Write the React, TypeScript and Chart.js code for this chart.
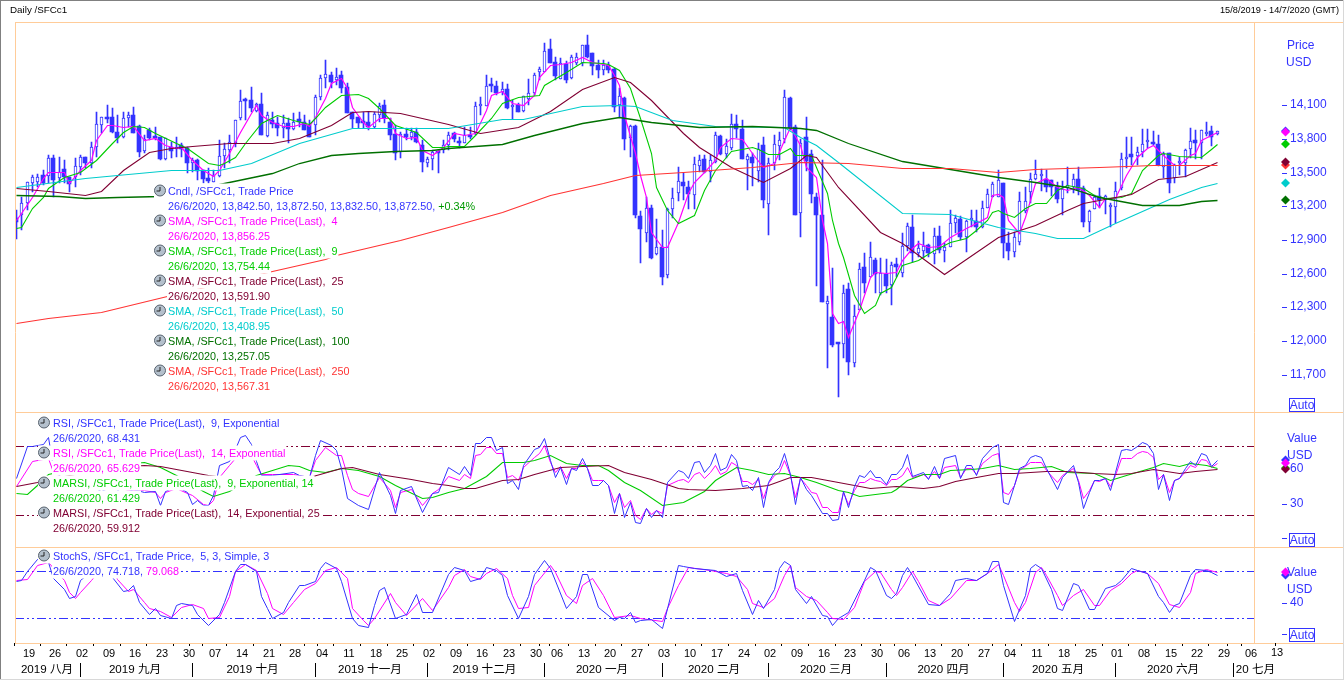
import React, { useEffect, useRef } from "react";
import { Chart, registerables } from "chart.js";

Chart.register(...registerables);

const BLUE = "#3333FF";
const MAGENTA = "#FF00FF";
const GREEN = "#00CC00";
const MAROON = "#800033";
const CYAN = "#00CCCC";
const DKGREEN = "#007000";
const RED = "#FF3333";
const FRAME = "#FFCC99";

const SLOTS = 232;
const HOLIDAYS = ["2020-01-01"];

const opens = [
  13100,13122,13226,13409,13418,13477,13471,13626,13448,13528,
  13463,13463,13551,13634,13581,13724,13922,13990,13990,13857,
  13812,13981,14011,13913,13694,13880,13812,13812,13617,13729,
  13705,13744,13714,13587,13611,13522,13448,13418,13470,13648,
  13700,13765,13984,14144,14144,14049,14108,13824,13966,13937,
  13892,13937,13883,13975,13951,13922,13922,14174,14337,14366,
  14322,14366,14257,14040,13990,13960,13952,13907,14011,14100,
  13951,13842,13685,13839,13818,13863,13744,13587,13617,13685,
  13700,13744,13848,13780,13766,13834,13850,14095,14092,14270,
  14269,14219,14240,14080,14100,14050,14151,14204,14397,14397,
  14595,14485,14329,14465,14337,14471,14471,14634,14560,14456,
  14412,14456,14417,14100,14160,13805,13914,13113,12965,13181,
  12773,12835,12586,13173,13321,13419,13374,13300,13561,13617,
  13507,13596,13824,13664,13715,13928,13886,13611,13635,13516,
  13744,13220,13581,13735,13795,14159,13907,13143,13812,13664,
  13285,13122,12331,12212,11983,11975,12461,11803,12278,12657,
  12568,12722,12432,12598,12500,12686,12609,12846,13012,12787,
  12805,12855,12775,12935,12805,12840,13048,13086,12929,13078,
  13072,13018,13181,13279,13285,13409,12876,12796,12885,13160,
  13329,13442,13468,13439,13433,13368,13261,13359,13368,13439,
  13359,13062,13172,13291,13255,13196,13190,13359,13620,13664,
  13646,13685,13774,13774,13753,13552,13670,13448,13587,13581,
  13705,13788,13765,13839,13865,13842.5,
];
const closes = [
  13060,13226,13412,13463,13463,13409,13626,13433,13507,13463,
  13398,13557,13640,13587,13729,13931,13990,13975,13857,13803,
  13981,14011,13848,13685,13794,13803,13803,13617,13803,13694,
  13729,13705,13587,13611,13516,13442,13427,13477,13648,13709,
  13768,13966,14135,14135,14070,14108,13833,14011,13930,13892,
  13937,13883,13951,13951,13877,13818,14174,14337,14375,14307,
  14352,14248,14026,13972,13943,13937,13901,14020,14091,13981,
  13833,13676,13842,13812,13863,13774,13596,13617,13685,13676,
  13744,13833,13795,13760,13834,13813,14092,14095,14269,14265,
  14210,14240,14071,14100,14041,14180,14210,14367,14417,14584,
  14477,14358,14471,14323,14524,14524,14634,14530,14447,14412,
  14456,14412,14080,14180,13795,13914,13122,12998,13181,12743,
  12835,12574,13173,13270,13427,13383,13306,13573,13611,13507,
  13611,13833,13664,13735,13928,13886,13620,13645,13587,13706,
  13255,13587,13753,13789,14168,13892,13122,13759,13605,13309,
  13122,12352,12358,11966,11974,12426,11818,12224,12639,12520,
  12746,12598,12604,12491,12678,12657,12846,13024,12781,12826,
  12849,12781,12935,12811,12840,13048,13092,12929,13072,13078,
  13012,13181,13306,13397,13433,12876,12805,12923,13246,13249,
  13439,13486,13468,13368,13368,13261,13350,13388,13439,13344,
  13062,13160,13285,13255,13291,13196,13338,13616,13640,13640,
  13685,13753,13774,13753,13566,13664,13409,13566,13587,13700,
  13777,13759,13877,13839,13818,13872.5,
];
const highs = [
  13166,13279,13418,13477,13483,13522,13655,13655,13640,13611,
  13463,13626,13655,13640,13774,14040,13996,14100,14070,14011,
  14040,14040,14079,13922,13833,13892,13907,13818,13803,13774,
  13818,13759,13729,13625,13617,13522,13537,13522,13788,13759,
  13833,13966,14233,14159,14257,14114,14203,14040,14040,13996,
  14011,13981,14026,14040,14011,13966,14188,14366,14500,14396,
  14426,14405,14292,14040,13990,14040,14040,14040,14114,14144,
  13981,13922,13863,13892,13892,13892,13788,13640,13700,13694,
  13788,13863,13863,13819,13908,13908,14130,14175,14367,14337,
  14314,14308,14284,14145,14115,14180,14329,14388,14441,14649,
  14684,14524,14515,14495,14545,14560,14634,14723,14560,14500,
  14500,14486,14426,14249,14175,13923,13923,13158,13285,13211,
  13084,12989,13181,13365,13546,13500,13427,13640,13655,13655,
  13655,13857,13833,13795,14020,14011,13966,13664,13670,13759,
  13818,13626,13833,13863,14233,14174,13922,13795,13990,13700,
  13315,13611,12400,12648,11983,12500,12520,12322,12692,12781,
  12885,12737,12737,12728,12707,12737,12965,13048,13122,12894,
  12974,12864,13004,13024,12870,13166,13122,13113,13078,13166,
  13166,13249,13350,13418,13522,13409,12974,12974,13329,13368,
  13492,13611,13528,13522,13433,13418,13427,13545,13486,13545,
  13380,13166,13300,13359,13300,13225,13418,13676,13812,13812,
  13729,13883,13883,13871,13833,13685,13676,13575,13640,13705,
  13900,13877,13877,13945,13913,13872.5,
];
const lows = [
  12909,12990,13166,13330,13374,13388,13403,13285,13403,13403,
  13329,13374,13477,13537,13537,13640,13848,13937,13848,13759,
  13803,13907,13848,13640,13670,13788,13788,13611,13611,13625,
  13640,13640,13492,13507,13433,13403,13403,13418,13463,13537,
  13581,13729,13966,13966,14040,14040,13833,13812,13892,13824,
  13803,13765,13877,13907,13877,13812,13833,14144,14248,14248,
  14277,14203,14026,13892,13892,13892,13877,13892,13951,13937,
  13789,13611,13625,13788,13788,13759,13507,13551,13522,13498,
  13670,13700,13775,13715,13760,13795,13834,14012,14092,14219,
  14190,14190,14062,13973,14041,14041,14100,14190,14323,14411,
  14471,14323,14329,14293,14329,14456,14447,14515,14367,14343,
  14367,14382,14041,13997,13700,13635,13093,12698,12879,12728,
  12767,12500,12559,13093,13250,13256,13173,13173,13507,13492,
  13418,13581,13655,13625,13700,13803,13620,13344,13380,13418,
  13187,12944,13522,13611,13759,13878,13122,12929,13516,13226,
  12491,12352,11759,11952,11501,11848,11700,11768,12278,12432,
  12568,12426,12411,12426,12322,12574,12574,12805,12707,12752,
  12737,12752,12686,12787,12707,12840,12959,12900,12796,13018,
  12968,13004,13181,13279,13285,12737,12722,12751,12855,13137,
  13231,13433,13338,13329,13291,13226,13122,13314,13320,13300,
  13018,12974,13172,13181,13131,13012,13048,13344,13537,13566,
  13566,13640,13714,13744,13558,13448,13320,13409,13477,13456,
  13625,13617,13617,13824,13735,13832.5,
];

type Pt = [number, number];

const sma4: Pt[] = [[0,13077],[1,13137],[3,13285],[5,13448],[6,13507],[9,13507],[10,13409],[12,13522],[14,13611],[15,13788],[17,13922],[18,13922],[20,13907],[22,13913],[24,13788],[26,13803],[28,13744],[30,13714],[31,13729],[33,13611],[35,13522],[37,13469],[38,13522],[40,13670],[42,13863],[44,14026],[45,14100],[46,14011],[48,13951],[50,13913],[52,13913],[54,13937],[55,13913],[56,13996],[58,14159],[59,14292],[61,14337],[62,14248],[63,14085],[65,13951],[66,13907],[68,13981],[70,13981],[71,13848],[73,13803],[75,13818],[76,13700],[78,13655],[80,13729],[82,13848],[84,13834],[86,13849],[88,14056],[89,14189],[91,14228],[93,14115],[95,14100],[97,14189],[98,14352],[100,14456],[102,14465],[104,14486],[106,14524],[108,14486],[111,14456],[112,14367],[113,14278],[114,14012],[116,13671],[117,13478],[118,13286],[119,12975],[121,12841],[122,12841],[124,13063],[126,13315],[127,13419],[129,13508],[131,13612],[132,13730],[134,13804],[136,13795],[138,13671],[140,13552],[142,13582],[144,13789],[145,13908],[147,13745],[148,13552],[150,13457],[151,13078],[152,12870],[153,12248],[154,12165],[155,12183],[156,12040],[158,12278],[160,12574],[161,12618],[163,12603],[165,12618],[166,12722],[168,12826],[169,12870],[171,12840],[173,12849],[175,12929],[178,13003],[180,13054],[182,13107],[183,13300],[184,13306],[185,13285],[186,13077],[188,12965],[189,13107],[191,13403],[193,13448],[195,13368],[197,13344],[199,13368],[201,13300],[203,13190],[204,13270],[206,13270],[208,13477],[210,13640],[212,13714],[213,13744],[215,13655],[217,13566],[218,13566],[220,13655],[221,13676],[222,13788],[224,13833],[225,13856.25]];
const sma9: Pt[] = [[0,13003],[1,13018],[3,13181],[5,13285],[6,13359],[9,13463],[12,13507],[15,13611],[18,13759],[20,13863],[22,13913],[24,13901],[26,13848],[30,13759],[32,13714],[36,13581],[38,13566],[39,13581],[41,13640],[43,13759],[46,13937],[49,14011],[52,13966],[55,13931],[56,13981],[58,14085],[61,14189],[64,14194],[66,14159],[68,14070],[71,13922],[75,13863],[78,13729],[80,13729],[81,13735],[84,13736],[86,13834],[89,13982],[91,14115],[94,14169],[98,14189],[99,14278],[103,14397],[106,14486],[110,14477],[111,14465],[113,14412],[115,14249],[117,13982],[119,13671],[120,13375],[122,13167],[124,13049],[127,13123],[129,13345],[131,13523],[134,13694],[138,13724],[139,13706],[141,13665],[143,13665],[145,13715],[146,13656],[149,13656],[150,13552],[152,13315],[153,13078],[154,12870],[155,12752],[157,12411],[159,12254],[161,12322],[162,12426],[164,12485],[166,12678],[169,12722],[172,12811],[175,12885],[178,12915],[180,12989],[182,13078],[183,13152],[184,13166],[185,13137],[187,13107],[189,13181],[191,13225],[193,13225],[195,13344],[197,13388],[200,13359],[202,13300],[204,13270],[207,13285],[209,13314],[211,13522],[214,13655],[215,13676],[218,13646],[222,13640],[224,13705],[225,13754.44]];
const sma25: Pt[] = [[0,13362],[6,13336],[13,13300],[16,13336],[20,13522],[25,13682],[29,13718],[33,13736],[40,13762],[48,13762],[53,13807],[59,13922],[63,14038],[66,14047],[72,14029],[81,13931],[87,13851],[94,13904],[100,14047],[106,14242],[112,14349],[115,14304],[119,14144],[125,13851],[128,13727],[134,13549],[140,13416],[145,13540],[148,13656],[150,13638],[154,13371],[162,12971],[166,12873],[174,12598],[184,12927],[191,13033],[197,13167],[200,13229],[209,13309],[214,13442],[219,13469],[225,13591.9]];
const sma50: Pt[] = [[0,13371],[13,13451],[19,13478],[29,13522],[38,13522],[44,13584],[53,13762],[63,13896],[72,13896],[81,13896],[91,13976],[95,13976],[106,14091],[113,14100],[116,14091],[123,13967],[131,13913],[144,13904],[147,13816],[150,13744],[154,13593],[166,13140],[175,13131],[184,13016],[191,12962],[195,12918],[200,12918],[206,13051],[216,13264],[222,13371],[225,13408.95]];
const sma100: Pt[] = [[0,13300],[8,13291],[13,13273],[19,13282],[27,13291],[33,13344],[39,13407],[48,13495],[53,13584],[59,13656],[64,13673],[71,13691],[78,13700],[81,13718],[91,13753],[97,13833],[106,13940],[113,13993],[119,13949],[128,13904],[138,13913],[147,13896],[150,13878],[156,13762],[166,13602],[175,13531],[184,13460],[191,13416],[197,13371],[203,13282],[211,13211],[218,13211],[222,13247],[225,13257.05]];
const sma250: Pt[] = [[0,12162],[6,12207],[16,12260],[29,12411],[48,12624],[58,12731],[60,12767],[72,12900],[81,13016],[91,13149],[100,13300],[110,13407],[116,13478],[125,13504],[138,13549],[147,13593],[156,13584],[166,13540],[175,13540],[184,13504],[191,13531],[203,13549],[213,13567],[225,13567.31]];

const rsi9: Pt[] = [[0,52],[2,80],[3,80.5],[5,81.7],[6,88.4],[7,62],[8,55],[10,47],[12,52],[14,45],[16,41],[18,45],[20,38],[22,43],[24,40],[26,41],[27,29],[28,41],[30,45],[32,40],[33,30],[34,33],[35,29],[36,29],[37,37.5],[38,64],[40,67],[41,78],[42,88],[43,90],[44,82],[45,67],[46,55],[48,55],[52,58],[53,55],[55,53.5],[56,72],[57,85.5],[59,81],[60,77],[61,61],[62,35],[64,29],[66,25],[68,58],[70,37.5],[71,21.5],[72,42],[74,45],[76,23],[78,39],[79,40],[81,62],[83,56],[84,63],[85,55],[86,82.6],[87,82.6],[88,88.4],[89,88.4],[90,76.8],[91,79],[92,47.7],[93,50.6],[94,42.5],[95,63.7],[97,78],[98,79.7],[99,87],[100,68],[101,53.5],[102,62],[103,47],[104,61],[105,59],[106,69.5],[107,61],[108,46],[109,46],[110,50.6],[111,46],[112,21.6],[113,39],[114,18.6],[115,31.7],[116,14.3],[117,12.8],[118,26],[119,18],[120,24.5],[121,18.6],[122,49],[124,59],[125,58],[126,52],[127,66],[128,67],[129,58],[130,64],[131,74],[132,59],[133,62],[134,73],[135,68],[136,45],[137,46],[138,42],[139,53.5],[140,27],[141,49],[142,58],[143,62],[144,74],[145,56],[146,30],[147,53.5],[148,43],[149,37.5],[151,21.5],[152,21.5],[153,16],[154,17],[155,41],[156,27],[157,45],[158,55],[159,53.5],[160,59],[161,53.5],[162,53],[163,47],[164,56],[165,55.5],[166,62],[167,73],[168,54],[170,58],[171,51.5],[172,63],[173,52],[174,69.5],[176,72],[177,52.6],[178,63.7],[179,63.7],[180,55],[181,69.5],[183,79.7],[184,81.7],[185,31.7],[186,30],[187,46],[188,60.8],[189,63.7],[190,71],[191,72.4],[192,71],[193,60.8],[195,43],[196,53.5],[198,64],[199,49],[200,26],[201,40],[202,50.6],[203,50.6],[204,52.6],[205,42],[206,58],[207,76.8],[208,77.6],[209,76.8],[210,80.5],[211,83.5],[212,81.7],[213,74],[214,42.8],[215,56],[216,33],[217,50.6],[218,52],[219,60.8],[220,67],[221,64],[222,74],[223,72.4],[224,63],[225,68.431]];
const rsi14: Pt[] = [[0,45],[3,67],[6,70],[7,58],[9,52],[12,50],[15,46],[18,46],[21,42],[24,42],[26,40],[27,35],[28,40],[30,44],[32,39],[33,37.5],[35,30],[36,29],[37,33],[38,53.5],[40,64],[41,69.5],[42,76],[44,72],[45,64],[46,56],[48,55.5],[52,56],[53,55],[55,53.5],[56,68],[58,79],[60,72],[61,72],[62,55],[63,43],[64,39],[66,37],[68,53.5],[70,42],[71,27],[72,40],[74,43],[76,29],[78,39],[79,43],[81,54],[83,50.6],[84,56],[85,52.6],[86,72],[87,73],[88,79.7],[89,79.7],[90,74],[91,74],[92,53.5],[93,55],[94,50.6],[95,62],[97,71],[98,74],[99,81],[100,66.6],[101,58],[102,63],[103,52.6],[104,61],[105,61],[106,66.6],[107,61],[108,50.6],[109,50.6],[110,50.6],[111,46],[112,31.7],[113,39],[114,27],[115,33],[116,20],[117,17],[118,26],[119,20.7],[120,24.5],[121,21.6],[122,46],[124,50.6],[125,51.5],[126,48.6],[127,56],[128,58],[129,52.6],[130,58],[131,64],[132,56],[133,58.5],[134,66],[135,64],[136,49.7],[137,49.7],[138,47],[139,51.5],[140,34.6],[141,47.7],[142,55],[143,58],[144,68],[145,55],[146,36],[147,52],[148,46],[149,40],[150,39],[151,27],[152,27],[153,23],[154,23],[155,40],[156,30],[157,42],[158,49],[159,49],[160,52],[161,50.6],[162,49.7],[163,46],[164,51.5],[165,51.5],[166,55],[167,62],[168,53.5],[170,56],[171,52],[172,58.5],[173,52.6],[174,62],[176,63.7],[177,53.5],[178,60.8],[179,60.8],[180,55.5],[181,65],[183,72.4],[184,74],[185,40],[186,38],[187,46],[188,59],[190,66],[191,66.6],[192,66],[193,59],[195,48.6],[196,55],[198,60.8],[199,50.6],[200,35],[201,42],[202,50.6],[203,49.7],[204,52],[205,45],[206,55],[207,69.5],[208,70],[209,70],[210,74],[211,76],[212,75],[213,71],[214,51.5],[215,56],[216,40],[217,50.6],[218,52.6],[219,58.5],[220,63.7],[221,62],[222,69],[223,68],[224,62],[225,65.629]];
const marsi9: Pt[] = [[0,39],[2,38],[4,46],[6,55.5],[12,62],[18,64],[24,66],[27,62],[30,55],[35,41],[37,37],[40,41],[45,55],[48,59],[51,64],[53,63],[55,59],[58,58],[61,61],[64,59],[68,54],[71,46],[76,35],[78,36],[81,40],[84,44],[88,54],[91,66],[95,66],[97,68],[100,72.4],[103,65],[106,64],[109,64],[111,59],[114,49],[117,42],[121,29],[125,31],[129,41],[131,50.6],[135,61.7],[138,59],[141,56],[144,57],[147,53.5],[150,49],[154,42],[156,40],[158,37],[161,38],[164,40],[165,42.5],[167,50.6],[170,56],[173,56],[175,59],[179,60],[181,60.8],[184,64],[187,60],[190,61.4],[194,63],[197,58],[202,56.4],[205,50.6],[208,55],[213,62],[215,65],[218,63],[220,65],[223,64],[225,61.429]];
const marsi14: Pt[] = [[0,45],[4,48.6],[10,55],[18,62],[24,64],[27,63],[36,55],[45,50],[55,53.5],[61,61],[63,62],[68,56],[74,51.5],[78,47.7],[81,46],[84,43.4],[86,43.4],[91,50.6],[94,51.5],[97,56],[102,61.7],[106,63],[111,63.7],[114,58],[119,51.5],[124,44],[126,42.5],[131,42],[136,44],[141,46],[145,53.5],[149,53.5],[154,48.6],[160,44],[165,45.4],[170,44],[173,45],[176,49.7],[180,53.5],[184,57],[187,56.4],[193,58.7],[197,58.7],[202,56.4],[206,55.8],[209,56.4],[213,60],[218,57],[221,58.5],[225,59.912]];
const stochK: Pt[] = [[0,67],[1,69],[2,80],[4,96],[5,99],[6,92],[7,71],[9,58],[10,46],[11,48],[12,69],[14,80],[16,84],[18,73],[20,55],[21,56],[22,62],[23,41],[25,26],[26,33],[27,24],[29,21],[30,37],[31,39],[33,37],[34,26],[36,12],[38,26],[39,41],[41,80],[42,89],[43,89],[45,80],[46,48],[47,33],[48,21],[50,28],[51,41],[53,62],[54,62],[56,67],[57,84],[58,91.5],[60,84],[61,67],[63,20],[64,12],[66,9],[67,37],[68,56],[69,60],[71,20],[73,26],[75,51],[76,28],[78,28],[81,77],[82,86],[84,82],[85,67],[87,72],[88,86],[90,82],[91,75],[92,50],[94,20],[96,48],[97,77],[99,95],[100,84],[103,33],[105,48],[106,77],[107,77],[109,35],[112,18],[113,22],[114,20],[115,28],[116,15],[117,18],[119,19],[121,8],[124,88],[125,87],[127,84],[131,82],[133,74.5],[135,77.5],[136,56],[138,26],[139,43],[140,33],[142,58],[143,84],[144,93],[145,88],[146,58],[148,39],[149,49],[151,24],[152,23.5],[153,12],[154,21],[156,28.6],[159,69],[160,86],[161,82],[163,50],[164,45.6],[165,52],[166,75],[167,86],[168,75],[171,38],[173,37],[175,52],[176,69],[178,71],[180,69],[182,77.5],[183,93],[184,93],[185,62.6],[187,16],[189,50],[190,84],[191,89],[192,84],[194,58],[195,33],[196,30],[198,64.7],[199,62.6],[201,32],[202,32],[204,59],[206,62.6],[207,69],[209,84],[210,82],[212,77.5],[214,48],[215,41],[216,28],[217,37],[218,39],[220,75],[221,82.6],[223,82],[224,79.6],[225,74.718]];
const stochD: Pt[] = [[0,69],[2,70],[4,88],[6,92],[9,69],[10,54],[11,46.4],[12,54],[14,69],[16,84],[18,84],[19,70],[21,55],[22,57],[24,41],[25,33.6],[27,29.4],[29,22],[31,35],[33,38],[35,33],[36,20],[38,22],[40,48],[41,80],[43,89],[45,82],[47,52],[48,33],[50,25],[52,41],[54,58],[56,65],[58,82],[60,86],[62,71],[63,33],[65,18],[66,11],[67,20],[70,52],[71,41],[73,24],[76,46.4],[78,30],[81,60],[82,75],[84,82.6],[85,74.5],[87,70],[88,78],[90,84],[92,71],[93,50],[94,33],[96,35],[97,62],[100,88],[101,79],[103,50],[105,40],[106,62],[108,72],[110,50],[112,22],[115,24],[117,20],[121,16],[122,33],[124,62],[126,85],[130,82],[133,77.5],[135,74.5],[137,58],[138,39],[140,35],[142,45.6],[144,75],[145,88],[146,60],[148,48],[150,43.5],[152,28.6],[153,20],[155,18.8],[157,35],[159,67],[161,81],[162,79.6],[164,58],[165,50],[166,60.5],[168,80],[169,67],[171,43.5],[173,37],[175,46.4],[178,69],[180,69],[182,77.5],[184,89],[185,75],[187,41],[188,29.4],[189,41],[191,79.6],[192,86],[193,75],[195,50],[196,37],[198,50],[200,58],[202,37],[203,37],[205,56],[207,64.7],[209,77.5],[210,82],[212,77.5],[214,64.7],[216,38],[218,35],[220,54],[221,77.5],[223,82.6],[225,79.068]];

const priceTicks = [11700, 12000, 12300, 12600, 12900, 13200, 13500, 13800, 14100];
const rsiTicks = [0, 30, 60];
const stochTicks = [0, 40];
const rsiBands = [80, 20];
const stochBands = [80, 20];
const monthStarts = [12, 33, 56, 77, 99, 121, 141, 163, 185, 206, 228];
const monthNames = ["2019 八月", "2019 九月", "2019 十月", "2019 十一月", "2019 十二月", "2020 一月", "2020 二月", "2020 三月", "2020 四月", "2020 五月", "2020 六月", "20 七月"];
const futureMonday = { slot: 236, text: "13" };

type Seg = [string, string];
type Row = { y: number; icon: boolean; segs: Seg[] };

const priceRows: Row[] = [
  { y: 191, icon: true, segs: [["Cndl, /SFCc1, Trade Price", BLUE]] },
  { y: 206, icon: false, segs: [["26/6/2020, 13,842.50, 13,872.50, 13,832.50, 13,872.50, ", BLUE], ["+0.34%", "#009900"]] },
  { y: 221, icon: true, segs: [["SMA, /SFCc1, Trade Price(Last),  4", MAGENTA]] },
  { y: 236, icon: false, segs: [["26/6/2020, 13,856.25", MAGENTA]] },
  { y: 251, icon: true, segs: [["SMA, /SFCc1, Trade Price(Last),  9", GREEN]] },
  { y: 266, icon: false, segs: [["26/6/2020, 13,754.44", GREEN]] },
  { y: 281, icon: true, segs: [["SMA, /SFCc1, Trade Price(Last),  25", MAROON]] },
  { y: 296, icon: false, segs: [["26/6/2020, 13,591.90", MAROON]] },
  { y: 311, icon: true, segs: [["SMA, /SFCc1, Trade Price(Last),  50", CYAN]] },
  { y: 326, icon: false, segs: [["26/6/2020, 13,408.95", CYAN]] },
  { y: 341, icon: true, segs: [["SMA, /SFCc1, Trade Price(Last),  100", DKGREEN]] },
  { y: 356, icon: false, segs: [["26/6/2020, 13,257.05", DKGREEN]] },
  { y: 371, icon: true, segs: [["SMA, /SFCc1, Trade Price(Last),  250", RED]] },
  { y: 386, icon: false, segs: [["26/6/2020, 13,567.31", RED]] },
];
const rsiRows: Row[] = [
  { y: 423, icon: true, segs: [["RSI, /SFCc1, Trade Price(Last),  9, Exponential", BLUE]] },
  { y: 438, icon: false, segs: [["26/6/2020, 68.431", BLUE]] },
  { y: 453, icon: true, segs: [["RSI, /SFCc1, Trade Price(Last),  14, Exponential", MAGENTA]] },
  { y: 468, icon: false, segs: [["26/6/2020, 65.629", MAGENTA]] },
  { y: 483, icon: true, segs: [["MARSI, /SFCc1, Trade Price(Last),  9, Exponential, 14", GREEN]] },
  { y: 498, icon: false, segs: [["26/6/2020, 61.429", GREEN]] },
  { y: 513, icon: true, segs: [["MARSI, /SFCc1, Trade Price(Last),  14, Exponential, 25", MAROON]] },
  { y: 528, icon: false, segs: [["26/6/2020, 59.912", MAROON]] },
];
const stochRows: Row[] = [
  { y: 556, icon: true, segs: [["StochS, /SFCc1, Trade Price,  5, 3, Simple, 3", BLUE]] },
  { y: 571, icon: false, segs: [["26/6/2020, 74.718, ", BLUE], ["79.068", MAGENTA]] },
];

function tradingDays(): string[] {
  const out: string[] = [];
  const d = new Date(Date.UTC(2019, 7, 15));
  while (out.length < SLOTS) {
    const iso = d.toISOString().slice(0, 10);
    const wd = d.getUTCDay();
    if (wd !== 0 && wd !== 6 && !HOLIDAYS.includes(iso)) out.push(iso);
    d.setUTCDate(d.getUTCDate() + 1);
  }
  return out;
}
const labels = tradingDays();

function sparse(points: Pt[]): (number | null)[] {
  const a: (number | null)[] = new Array(SLOTS).fill(null);
  points.forEach(([i, v]) => { a[i] = v; });
  return a;
}

const SANS = '"Liberation Sans", Arial, sans-serif';
const CJK = '"Liberation Sans", "Noto Sans CJK SC", sans-serif';
const AREA_LEFT = 13.33;
const AREA_RIGHT = AREA_LEFT + SLOTS * 5.336;

function drawClock(ctx: CanvasRenderingContext2D, x: number, y: number) {
  ctx.save();
  ctx.beginPath();
  ctx.arc(x, y, 5.5, 0, Math.PI * 2);
  ctx.fillStyle = "#B4C0CC";
  ctx.fill();
  ctx.strokeStyle = "#5A6470";
  ctx.lineWidth = 1;
  ctx.stroke();
  ctx.beginPath();
  ctx.moveTo(x, y - 3.5);
  ctx.lineTo(x, y + 0.5);
  ctx.lineTo(x - 3.5, y + 0.5);
  ctx.strokeStyle = "#222";
  ctx.stroke();
  ctx.restore();
}

function drawRows(ctx: CanvasRenderingContext2D, rows: Row[], textX: number, iconX: number) {
  ctx.save();
  ctx.font = `10.8px ${SANS}`;
  ctx.textBaseline = "middle";
  ctx.textAlign = "left";
  rows.forEach((r) => {
    const w = r.segs.reduce((s, [t]) => s + ctx.measureText(t).width, 0);
    const left = r.icon ? iconX - 6 : textX - 1;
    ctx.fillStyle = "#FFFFFF";
    ctx.fillRect(left, r.y - 7.5, textX + w + 1 - left, 15);
    if (r.icon) drawClock(ctx, iconX, r.y - 0.5);
    let x = textX;
    r.segs.forEach(([t, c]) => {
      ctx.fillStyle = c;
      ctx.fillText(t, x, r.y + 1);
      x += ctx.measureText(t).width;
    });
  });
  ctx.restore();
}

function diamond(ctx: CanvasRenderingContext2D, x: number, y: number, color: string) {
  ctx.save();
  ctx.fillStyle = color;
  ctx.beginPath();
  ctx.moveTo(x, y - 4.5);
  ctx.lineTo(x + 4.5, y);
  ctx.lineTo(x, y + 4.5);
  ctx.lineTo(x - 4.5, y);
  ctx.closePath();
  ctx.fill();
  ctx.restore();
}

function line(ctx: CanvasRenderingContext2D, x1: number, y1: number, x2: number, y2: number, color: string) {
  ctx.strokeStyle = color;
  ctx.lineWidth = 1;
  ctx.beginPath();
  ctx.moveTo(x1, y1);
  ctx.lineTo(x2, y2);
  ctx.stroke();
}

function autoBox(ctx: CanvasRenderingContext2D, y: number) {
  ctx.fillStyle = "#FFFFFF";
  ctx.fillRect(1289, y, 25, 13);
  ctx.strokeStyle = BLUE;
  ctx.lineWidth = 1;
  ctx.strokeRect(1289.5, y + 0.5, 25, 13);
  ctx.fillStyle = BLUE;
  ctx.textAlign = "center";
  ctx.fillText("Auto", 1302, y + 7.5);
}

const PANES: Record<string, [number, number]> = {
  y: [22, 412],
  yRsi: [412, 547],
  yStoch: [547, 643],
};

const decor = {
  id: "decor",
  afterLayout(chart: any) {
    const { scales } = chart;
    chart.chartArea = {
      left: AREA_LEFT, right: AREA_RIGHT, top: 22, bottom: 643,
      width: AREA_RIGHT - AREA_LEFT, height: 621,
    };
    const xs = scales.x;
    xs.left = AREA_LEFT; xs.right = AREA_RIGHT; xs.width = AREA_RIGHT - AREA_LEFT;
    xs.top = 643; xs.bottom = 680; xs.height = 37;
    xs.configure();
    Object.keys(PANES).forEach((id) => {
      const s = scales[id];
      const [top, bottom] = PANES[id];
      s.left = AREA_RIGHT; s.right = 1344; s.width = 1344 - AREA_RIGHT;
      s.top = top; s.bottom = bottom; s.height = bottom - top;
      s.configure();
    });
  },
  beforeDatasetDraw(chart: any, args: any) {
    const isLine = args.meta.type === "line";
    const isFilled = chart.data.datasets[args.index].label === "Cndl down";
    chart.ctx.save();
    chart.ctx.translate(isFilled ? 0 : 0.5, isLine ? 0.5 : 0);
  },
  afterDatasetDraw(chart: any) {
    chart.ctx.restore();
  },
  beforeDatasetsDraw(chart: any) {
    const { ctx, scales } = chart;
    ctx.save();
    ctx.setLineDash([9, 3, 2, 3, 2, 3]);
    rsiBands.forEach((v) => {
      const y = Math.round(scales.yRsi.getPixelForValue(v)) + 0.5;
      line(ctx, 15, y, 1254, y, MAROON);
    });
    stochBands.forEach((v) => {
      const y = Math.round(scales.yStoch.getPixelForValue(v)) + 0.5;
      line(ctx, 15, y, 1254, y, BLUE);
    });
    ctx.restore();
  },
  afterDatasetsDraw(chart: any) {
    const { ctx, scales } = chart;
    const xs = scales.x;
    ctx.save();
    // clean edge left of the frame
    ctx.fillStyle = "#FFFFFF";
    ctx.fillRect(0, 22, 15, 621);

    drawRows(ctx, priceRows, 168, 160);
    drawRows(ctx, rsiRows, 53, 44);
    drawRows(ctx, stochRows, 53, 44);

    // frame
    [22, 412, 547, 643].forEach((y) => line(ctx, 15, y + 0.5, 1343, y + 0.5, FRAME));
    line(ctx, 15.5, 22, 15.5, 643, FRAME);
    line(ctx, 1254.5, 22, 1254.5, 643, FRAME);
    // window edges
    line(ctx, 0, 0.5, 1344, 0.5, "#808080");
    line(ctx, 0.5, 0, 0.5, 680, "#808080");
    line(ctx, 1343.5, 0, 1343.5, 680, "#D8D8D8");
    line(ctx, 0, 679.5, 1344, 679.5, "#D8D8D8");

    // header
    ctx.fillStyle = "#000";
    ctx.textBaseline = "middle";
    ctx.font = `9.8px ${SANS}`;
    ctx.textAlign = "left";
    ctx.fillText("Daily /SFCc1", 10, 10.5);
    ctx.font = `9.2px ${SANS}`;
    ctx.textAlign = "right";
    ctx.fillText("15/8/2019 - 14/7/2020 (GMT)", 1339, 10.5);

    // axis tick marks on the right panel
    [scales.y, scales.yRsi, scales.yStoch].forEach((s: any) => {
      s.ticks.forEach((t: any) => {
        const y = Math.round(s.getPixelForValue(t.value)) + 0.5;
        line(ctx, 1282, y, 1287, y, BLUE);
      });
    });

    // axis captions
    ctx.fillStyle = BLUE;
    ctx.font = `12px ${SANS}`;
    ctx.textAlign = "left";
    ctx.fillText("Price", 1287, 45.5);
    ctx.fillText("USD", 1286, 62.5);
    ctx.fillText("Value", 1287, 438.5);
    ctx.fillText("USD", 1287, 455.5);
    ctx.fillText("USD", 1287, 589.5);
    autoBox(ctx, 398);
    autoBox(ctx, 533);
    ctx.textAlign = "left";
    autoBox(ctx, 628);

    // last value markers
    const mx = 1285.5;
    const marks: [any, number, string][] = [
      [scales.y, closes[closes.length - 1], BLUE],
      [scales.y, sma4[sma4.length - 1][1], MAGENTA],
      [scales.y, sma9[sma9.length - 1][1], GREEN],
      [scales.y, sma250[sma250.length - 1][1], RED],
      [scales.y, sma25[sma25.length - 1][1], MAROON],
      [scales.y, sma50[sma50.length - 1][1], CYAN],
      [scales.y, sma100[sma100.length - 1][1], DKGREEN],
      [scales.yRsi, marsi9[marsi9.length - 1][1], GREEN],
      [scales.yRsi, marsi14[marsi14.length - 1][1], MAROON],
      [scales.yRsi, rsi9[rsi9.length - 1][1], BLUE],
      [scales.yRsi, rsi14[rsi14.length - 1][1], MAGENTA],
      [scales.yStoch, stochK[stochK.length - 1][1], BLUE],
      [scales.yStoch, stochD[stochD.length - 1][1], MAGENTA],
    ];
    marks.forEach(([s, v, c]) => diamond(ctx, mx, s.getPixelForValue(v), c));

    // "Value" of the lower pane is printed over its markers
    ctx.fillStyle = BLUE;
    ctx.textAlign = "left";
    ctx.font = `12px ${SANS}`;
    ctx.fillText("Value", 1287, 572.5);

    // date axis: tick past the price panel edge and month row
    ctx.fillStyle = "#000";
    ctx.textAlign = "center";
    ctx.font = `11px ${SANS}`;
    const fx = xs.getPixelForValue(futureMonday.slot);
    ctx.fillText(futureMonday.text, fx + 2, 653);
    line(ctx, fx + 0.5, 643, fx + 0.5, 646, "#000");

    ctx.font = `11.6px ${CJK}`;
    const seps = monthStarts.map((i) => xs.getPixelForValue(i));
    const bounds = [16, ...seps, 1280];
    monthNames.forEach((m, k) => {
      ctx.fillStyle = "#000";
      ctx.fillText(m, (bounds[k] + bounds[k + 1]) / 2 - 1, 669.5);
    });
    seps.forEach((x) => {
      const px = Math.round(x) + 0.5;
      line(ctx, px, 663, px, 677, "#000");
    });
    ctx.restore();
  },
};

const lineSet = (label: string, pts: Pt[], color: string, yAxisID: string, width = 1) => ({
  type: "line" as const,
  label,
  data: sparse(pts),
  borderColor: color,
  borderWidth: width,
  pointRadius: 0,
  tension: 0,
  spanGaps: true,
  yAxisID,
  order: 1,
});

export default function App() {
  const ref = useRef<HTMLCanvasElement>(null);
  useEffect(() => {
    const weekStart = (iso: string) => new Date(iso + "T00:00:00Z").getUTCDay() === 1;
    const paneTicks = (extra: any) => ({
      padding: 1290 - AREA_RIGHT,
      color: BLUE,
      font: { family: SANS, size: 12 },
      ...extra,
    });
    const chart = new Chart(ref.current as HTMLCanvasElement, {
      data: {
        labels,
        datasets: [
          {
            type: "bar",
            label: "High-Low",
            data: highs.map((h, i) => [lows[i], h]),
            backgroundColor: BLUE,
            barThickness: 1,
            grouped: false,
            yAxisID: "y",
            order: 20,
          },
          {
            type: "bar",
            label: "Cndl up",
            data: opens.map((o, i) => (closes[i] >= o ? [o, closes[i]] : null)),
            backgroundColor: "#FFFFFF",
            borderColor: BLUE,
            borderWidth: 1,
            borderSkipped: false,
            barThickness: 3,
            minBarLength: 2,
            grouped: false,
            yAxisID: "y",
            order: 19,
          },
          {
            type: "bar",
            label: "Cndl down",
            data: opens.map((o, i) => (closes[i] < o ? [o, closes[i]] : null)),
            backgroundColor: BLUE,
            barThickness: 4,
            minBarLength: 2,
            grouped: false,
            yAxisID: "y",
            order: 18,
          },
          lineSet("SMA 250", sma250, RED, "y", 1.1),
          lineSet("SMA 100", sma100, DKGREEN, "y", 1.3),
          lineSet("SMA 50", sma50, CYAN, "y", 1.1),
          lineSet("SMA 25", sma25, MAROON, "y", 1.1),
          lineSet("SMA 9", sma9, GREEN, "y", 1.1),
          lineSet("SMA 4", sma4, MAGENTA, "y", 1.2),
          lineSet("RSI 9", rsi9, BLUE, "yRsi"),
          lineSet("MARSI 14", marsi14, MAROON, "yRsi", 1.1),
          lineSet("MARSI 9", marsi9, GREEN, "yRsi", 1.1),
          lineSet("RSI 14", rsi14, MAGENTA, "yRsi"),
          lineSet("StochS K", stochK, BLUE, "yStoch"),
          lineSet("StochS D", stochD, MAGENTA, "yStoch"),
        ] as any,
      },
      options: {
        responsive: false,
        animation: false,
        devicePixelRatio: 1,
        events: [],
        layout: { padding: { left: AREA_LEFT, top: 22, right: 0, bottom: 0 } },
        plugins: { legend: { display: false }, tooltip: { enabled: false } },
        scales: {
          x: {
            type: "category",
            offset: true,
            alignToPixels: true,
            afterFit: (s: any) => { s.height = 37; },
            border: { display: false },
            grid: { display: true, drawOnChartArea: false, drawTicks: true, tickLength: 3, color: "#000" },
            ticks: {
              autoSkip: false,
              maxRotation: 0,
              minRotation: 0,
              padding: 1,
              labelOffset: 2,
              color: "#000",
              font: { family: SANS, size: 11 },
              callback: (_v: any, i: number) => {
                const iso = labels[i];
                if (weekStart(iso)) return iso.slice(8, 10);
                return monthStarts.includes(i) ? "" : null;
              },
            },
          },
          y: {
            type: "linear",
            position: "right",
            stack: "panes",
            stackWeight: 390,
            min: 11371,
            max: 14838,
            alignToPixels: true,
            afterFit: (s: any) => { s.width = 1344 - AREA_RIGHT; },
            afterBuildTicks: (s: any) => { s.ticks = priceTicks.map((value) => ({ value })); },
            border: { display: false },
            grid: { display: false, drawTicks: false },
            ticks: paneTicks({ callback: (v: any) => Number(v).toLocaleString("en-US") }),
          },
          yRsi: {
            type: "linear",
            position: "right",
            stack: "panes",
            stackWeight: 135,
            min: -7.8,
            max: 109.9,
            alignToPixels: true,
            afterFit: (s: any) => { s.width = 1344 - AREA_RIGHT; },
            afterBuildTicks: (s: any) => { s.ticks = rsiTicks.map((value) => ({ value })); },
            border: { display: false },
            grid: { display: false, drawTicks: false },
            ticks: paneTicks({ callback: (v: any) => (v === 0 ? "" : String(v)) }),
          },
          yStoch: {
            type: "linear",
            position: "right",
            stack: "panes",
            stackWeight: 96,
            min: -11.5,
            max: 111,
            alignToPixels: true,
            afterFit: (s: any) => { s.width = 1344 - AREA_RIGHT; },
            afterBuildTicks: (s: any) => { s.ticks = stochTicks.map((value) => ({ value })); },
            border: { display: false },
            grid: { display: false, drawTicks: false },
            ticks: paneTicks({ callback: (v: any) => (v === 0 ? "" : String(v)) }),
          },
        },
      } as any,
      plugins: [decor as any],
    });
    return () => chart.destroy();
  }, []);
  return (
    <div style={{ position: "absolute", left: 0, top: 0, width: 1344, height: 680, background: "#FFFFFF" }}>
      <canvas ref={ref} width={1344} height={680} style={{ display: "block" }} />
    </div>
  );
}
